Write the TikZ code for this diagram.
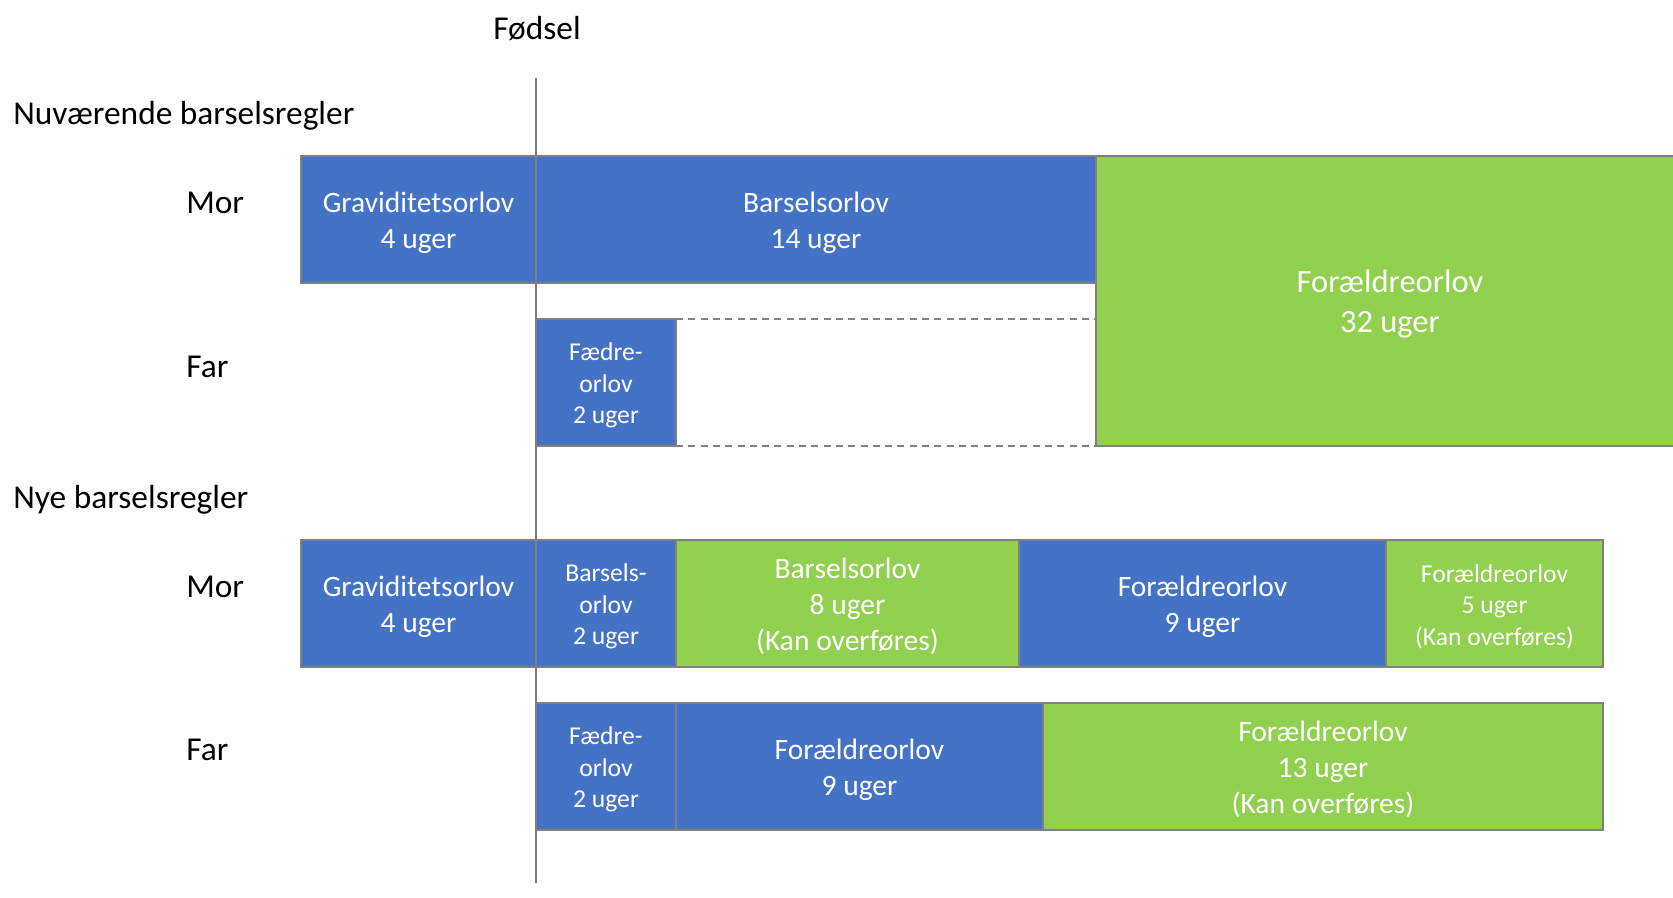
\documentclass[tikz,border=0pt]{standalone}
\usepackage{fontspec}
\setmainfont{Carlito}
\usepackage{xcolor}
\usepackage{tikz}

\definecolor{orlovblaa}{RGB}{68,114,196}
\definecolor{orlovgroen}{RGB}{146,208,80}
\definecolor{kant}{RGB}{128,128,128}

\begin{document}
\begin{tikzpicture}[
  blaa/.style={fill=orlovblaa,draw=kant,line width=0.6pt},
  groen/.style={fill=orlovgroen,draw=kant,line width=0.6pt},
  tekst/.style={text=white,align=center,yshift=-0.06cm,font=\fontsize{16.8}{20.5}\selectfont},
  lille/.style={text=white,align=center,yshift=-0.06cm,font=\fontsize{14.6}{17.9}\selectfont},
  stor/.style={text=white,align=center,yshift=-0.06cm,font=\fontsize{18.5}{22.5}\selectfont},
  etiket/.style={anchor=base west,inner sep=0pt,font=\fontsize{19}{23}\selectfont},
  stiplet/.style={draw=kant,line width=0.8pt,dash pattern=on 4pt off 3pt},
  tidslinje/.style={draw=kant,line width=1.2pt}]
  \clip (0,0) rectangle (33.46,-17.94);
  \fill[white] (0,0) rectangle (33.46,-17.94);

  % nuvaerende regler
  \node[etiket] (nuv) at (0.26,-2.48) {Nuværende barselsregler};
  \node[etiket] (morA) at (3.72,-4.27) {Mor};
  \node[etiket] (farA) at (3.72,-7.55) {Far};
  \draw[blaa] (6.02,-3.12) rectangle (10.72,-5.66) node[midway,tekst] (gravA) {Graviditetsorlov\\4 uger};
  \draw[blaa] (10.72,-3.12) rectangle (21.92,-5.66) node[midway,tekst] (barselA) {Barselsorlov\\14 uger};
  \draw[groen] (21.92,-3.12) rectangle (34,-8.92) node[midway,stor,xshift=-0.16cm] (foraeldA) {Forældreorlov\\32 uger};
  \draw[blaa] (10.72,-6.38) rectangle (13.52,-8.92) node[midway,lille] (faedreA) {Fædre-\\orlov\\2 uger};
  \draw[stiplet] (13.52,-6.38) -- (21.92,-6.38);
  \draw[stiplet] (13.52,-8.92) -- (21.92,-8.92);

  % nye regler
  \node[etiket] (nye) at (0.26,-10.16) {Nye barselsregler};
  \node[etiket] (morB) at (3.72,-11.95) {Mor};
  \node[etiket] (farB) at (3.72,-15.21) {Far};
  \draw[blaa] (6.02,-10.80) rectangle (10.72,-13.34) node[midway,tekst] (gravB) {Graviditetsorlov\\4 uger};
  \draw[blaa] (10.72,-10.80) rectangle (13.52,-13.34) node[midway,lille] (barselB) {Barsels-\\orlov\\2 uger};
  \draw[groen] (13.52,-10.80) rectangle (20.38,-13.34) node[midway,tekst] (barselC) {Barselsorlov\\8 uger\\(Kan overføres)};
  \draw[blaa] (20.38,-10.80) rectangle (27.72,-13.34) node[midway,tekst] (foraeldB) {Forældreorlov\\9 uger};
  \draw[groen] (27.72,-10.80) rectangle (32.06,-13.34) node[midway,lille] (foraeldC) {Forældreorlov\\5 uger\\(Kan overføres)};
  \draw[blaa] (10.72,-14.06) rectangle (13.52,-16.60) node[midway,lille] (faedreB) {Fædre-\\orlov\\2 uger};
  \draw[blaa] (13.52,-14.06) rectangle (20.86,-16.60) node[midway,tekst] (foraeldD) {Forældreorlov\\9 uger};
  \draw[groen] (20.86,-14.06) rectangle (32.06,-16.60) node[midway,tekst] (foraeldE) {Forældreorlov\\13 uger\\(Kan overføres)};

  % foedsel
  \node[anchor=base,font=\fontsize{19}{23}\selectfont] (fodsel) at (10.74,-0.79) {Fødsel};
  \coordinate (top) at (10.72,-1.56);
  \coordinate (bund) at (10.72,-17.66);
  \draw[tidslinje] (top) -- (bund);
\end{tikzpicture}
\end{document}
